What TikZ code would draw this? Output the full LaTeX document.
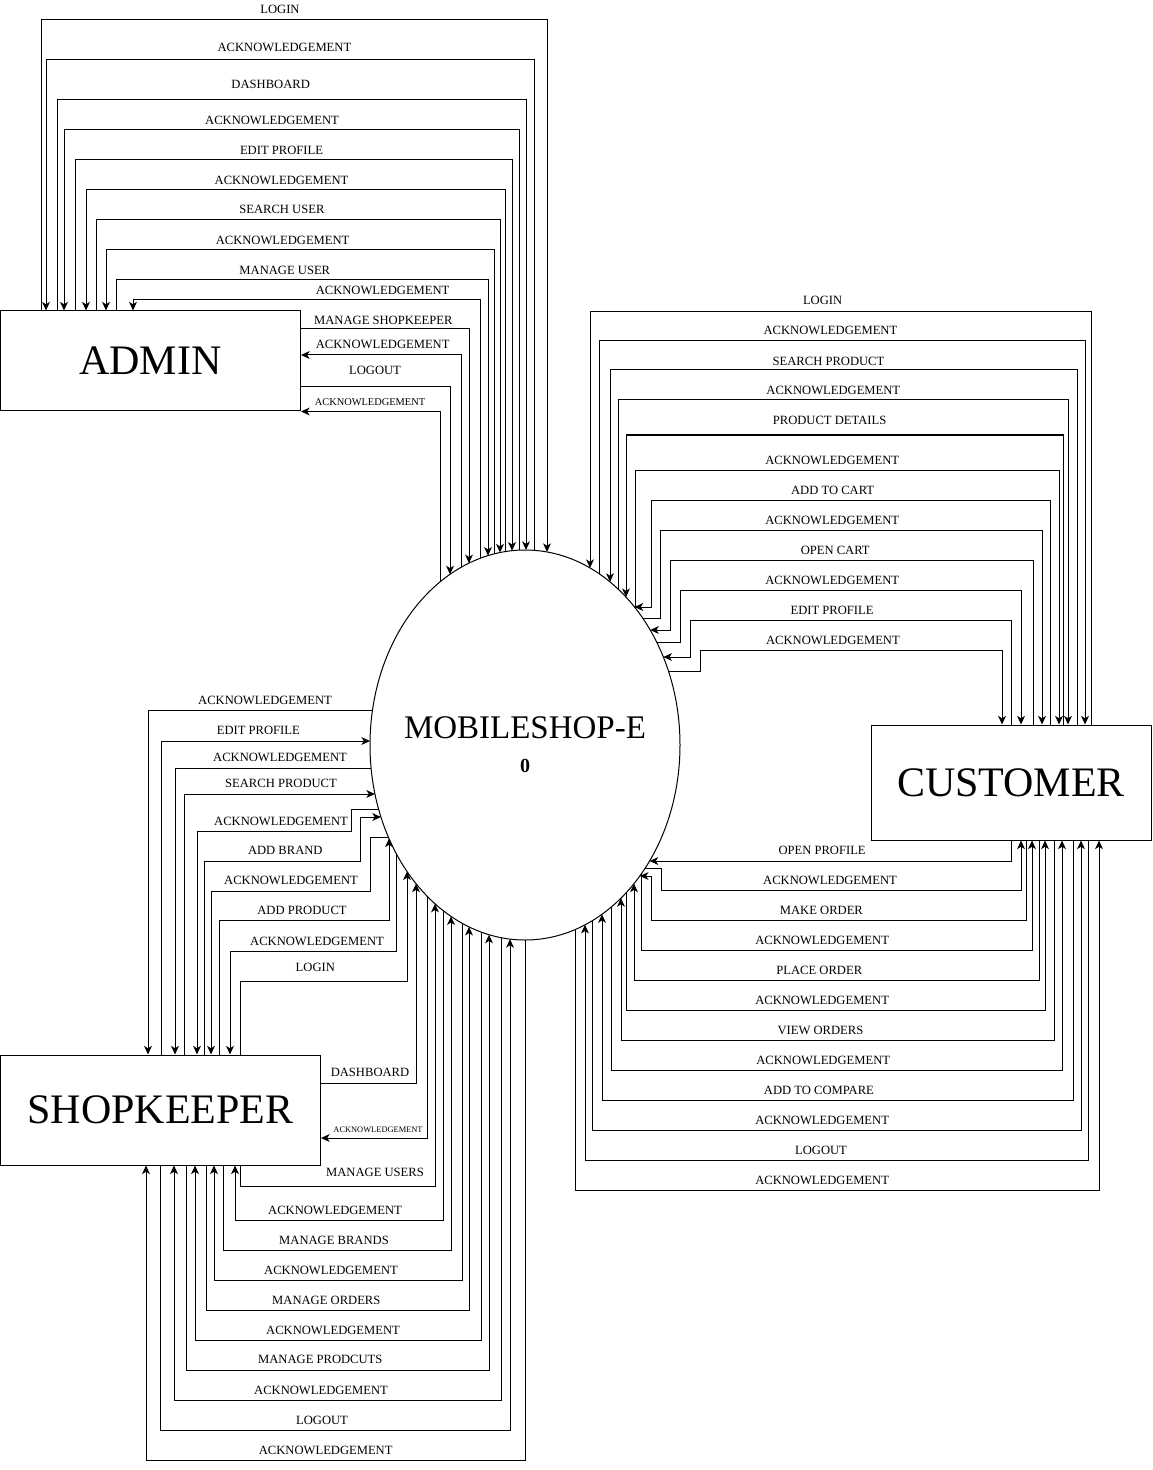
\documentclass[tikz,border=0pt]{standalone}
\usepackage{fontspec}
\setmainfont{Liberation Serif}
\usetikzlibrary{shapes.geometric,arrows.meta,calc}
\begin{document}
\begin{tikzpicture}[x=0.5pt,y=-0.5pt,
  declare function={ety(\t)=195*sqrt(max(0,1-(\t/155)^2)); etx(\t)=155*sqrt(max(0,1-(\t/195)^2));},
  flow/.style={draw=black,line width=0.5pt,-{Stealth[length=4.3pt,width=3.9pt,inset=1.2pt]}},
  ent/.style={draw=black,line width=0.5pt,rectangle,inner sep=0pt,font=\fontsize{21}{24}\selectfont},
  lbl/.style={inner sep=0pt,font=\fontsize{6.3}{7}\selectfont},
  lbls/.style={inner sep=0pt,font=\fontsize{5.2}{6}\selectfont},
  lblt/.style={inner sep=0pt,font=\fontsize{4.2}{5}\selectfont},
]
\useasboundingbox (0,0) rectangle (1152,1470);

% entities and process
\node[ent,minimum width=150pt,minimum height=50pt] (A) at (150.5,361) {ADMIN};
\node[ent,minimum width=140pt,minimum height=57.5pt] (C) at (1011,782.5) {CUSTOMER};
\node[ent,minimum width=160pt,minimum height=55pt] (S) at (160.5,1110) {SHOPKEEPER};
\node[ellipse,draw=black,line width=0.5pt,minimum width=155pt,minimum height=195pt,inner sep=0pt] (E) at (525,745) {};
\node[inner sep=0pt,font=\fontsize{16.5}{19}\selectfont] (Et) at (525,728) {MOBILESHOP-E};
\node[inner sep=0pt,font=\bfseries\fontsize{10}{12}\selectfont] (En) at (525,766) {0};

% ---------------- ADMIN ----------------
\draw[flow] (41,0 |- A.north) |- (547,20) -- ($(E.center)+(22,{-ety(22)})$);
\draw[flow] ($(E.center)+(9,{-ety(9)})$) |- (46,60) -- (46,0 |- A.north);
\draw[flow] (57,0 |- A.north) |- (526,100) -- ($(E.center)+(1,{-ety(1)})$);
\draw[flow] ($(E.center)+(-6,{-ety(-6)})$) |- (64,130) -- (64,0 |- A.north);
\draw[flow] (75,0 |- A.north) |- (512,160) -- ($(E.center)+(-13,{-ety(-13)})$);
\draw[flow] ($(E.center)+(-20,{-ety(-20)})$) |- (86,190) -- (86,0 |- A.north);
\draw[flow] (96,0 |- A.north) |- (500,220) -- ($(E.center)+(-25,{-ety(-25)})$);
\draw[flow] ($(E.center)+(-31,{-ety(-31)})$) |- (106,250) -- (106,0 |- A.north);
\draw[flow] (116,0 |- A.north) |- (488,280) -- ($(E.center)+(-37,{-ety(-37)})$);
\draw[flow] ($(E.center)+(-45,{-ety(-45)})$) |- (133,300) -- (133,0 |- A.north);
\draw[flow] (A.east |- 0,329) -| ($(E.center)+(-56,{-ety(-56)})$);
\draw[flow] ($(E.center)+(-64,{-ety(-64)})$) |- (A.east |- 0,355);
\draw[flow] (A.east |- 0,387) -| ($(E.center)+(-75,{-ety(-75)})$);
\draw[flow] ($(E.center)+(-85,{-ety(-85)})$) |- (A.south east);

\node[lbl] (a1) at (280,9.3) {LOGIN};
\node[lbl] (a2) at (284.4,47.7) {ACKNOWLEDGEMENT};
\node[lbl] (a3) at (270.7,84.3) {DASHBOARD};
\node[lbl] (a4) at (272,120.3) {ACKNOWLEDGEMENT};
\node[lbl] (a5) at (281.5,150.3) {EDIT PROFILE};
\node[lbl] (a6) at (281.5,180.3) {ACKNOWLEDGEMENT};
\node[lbl] (a7) at (281.9,209.3) {SEARCH USER};
\node[lbl] (a8) at (282.6,240.3) {ACKNOWLEDGEMENT};
\node[lbl] (a9) at (284.8,270) {MANAGE USER};
\node[lbl] (a10) at (382.6,290.3) {ACKNOWLEDGEMENT};
\node[lbl] (a11) at (383.3,320.7) {MANAGE SHOPKEEPER};
\node[lbl] (a12) at (382.7,344.3) {ACKNOWLEDGEMENT};
\node[lbl] (a13) at (375,370.7) {LOGOUT};
\node[lbls] (a14) at (370,401.7) {ACKNOWLEDGEMENT};

% ---------------- CUSTOMER top ----------------
\draw[flow] (1091,0 |- C.north) |- (590,312) -- ($(E.center)+(65,{-ety(65)})$);
\draw[flow] ($(E.center)+(74,{-ety(74)})$) |- (1085,341) -- (1085,0 |- C.north);
\draw[flow] (1077,0 |- C.north) |- (610,370) -- ($(E.center)+(85,{-ety(85)})$);
\draw[flow] ($(E.center)+(93,{-ety(93)})$) |- (1068,400) -- (1068,0 |- C.north);
\draw[flow] (1063,0 |- C.north) |- (626,435) -- ($(E.center)+(101,{-ety(101)})$);
\draw[flow] ($(E.center)+(110,{-ety(110)})$) |- (1059,470) -- (1059,0 |- C.north);
\draw[flow] (1050,0 |- C.north) |- (651,500) |- ($(E.center)+({etx(-138)},-138)$);
\draw[flow] ($(E.center)+({etx(-127)},-127)$) -| (660,530) -| (1042,0 |- C.north);
\draw[flow] (1033,0 |- C.north) |- (670,560) |- ($(E.center)+({etx(-115)},-115)$);
\draw[flow] ($(E.center)+({etx(-103)},-103)$) -| (680,590) -| (1021,0 |- C.north);
\draw[flow] (1011,0 |- C.north) |- (690,620) |- ($(E.center)+({etx(-88)},-88)$);
\draw[flow] ($(E.center)+({etx(-74)},-74)$) -| (700,650) -| (1002,0 |- C.north);

\node[lbl] (c1) at (822.6,300.7) {LOGIN};
\node[lbl] (c2) at (830.4,330.3) {ACKNOWLEDGEMENT};
\node[lbl] (c3) at (828.5,361.3) {SEARCH PRODUCT};
\node[lbl] (c4) at (833.3,390.3) {ACKNOWLEDGEMENT};
\node[lbl] (c5) at (829.6,420.3) {PRODUCT DETAILS};
\node[lbl] (c6) at (832.2,460.3) {ACKNOWLEDGEMENT};
\node[lbl] (c7) at (832.6,490.3) {ADD TO CART};
\node[lbl] (c8) at (832.2,520.3) {ACKNOWLEDGEMENT};
\node[lbl] (c9) at (835.2,550.3) {OPEN CART};
\node[lbl] (c10) at (832.2,580.3) {ACKNOWLEDGEMENT};
\node[lbl] (c11) at (832.1,610.7) {EDIT PROFILE};
\node[lbl] (c12) at (832.9,640) {ACKNOWLEDGEMENT};

% ---------------- CUSTOMER bottom ----------------
\draw[flow] (1011,0 |- C.south) |- ($(E.center)+({etx(116)},116)$);
\draw[flow] ($(E.center)+({etx(123)},123)$) -| (661,890) -| (1021,0 |- C.south);
\draw[flow] (1026,0 |- C.south) |- (651,920) |- ($(E.center)+({etx(131)},131)$);
\draw[flow] ($(E.center)+(116,{ety(116)})$) |- (1032,950) -- (1032,0 |- C.south);
\draw[flow] (1039,0 |- C.south) |- (634,980) -- ($(E.center)+(109,{ety(109)})$);
\draw[flow] ($(E.center)+(101,{ety(101)})$) |- (1045,1010) -- (1045,0 |- C.south);
\draw[flow] (1054,0 |- C.south) |- (621,1040) -- ($(E.center)+(96,{ety(96)})$);
\draw[flow] ($(E.center)+(86,{ety(86)})$) |- (1062,1070) -- (1062,0 |- C.south);
\draw[flow] (1073,0 |- C.south) |- (602,1100) -- ($(E.center)+(77,{ety(77)})$);
\draw[flow] ($(E.center)+(67,{ety(67)})$) |- (1081,1130) -- (1081,0 |- C.south);
\draw[flow] (1088,0 |- C.south) |- (585,1160) -- ($(E.center)+(60,{ety(60)})$);
\draw[flow] ($(E.center)+(50,{ety(50)})$) |- (1099,1190) -- (1099,0 |- C.south);

\node[lbl] (d1) at (822.1,850.3) {OPEN PROFILE};
\node[lbl] (d2) at (830,880.3) {ACKNOWLEDGEMENT};
\node[lbl] (d3) at (821.4,910.3) {MAKE ORDER};
\node[lbl] (d4) at (822.1,940.3) {ACKNOWLEDGEMENT};
\node[lbl] (d5) at (819.3,970.3) {PLACE ORDER};
\node[lbl] (d6) at (822.1,1000.3) {ACKNOWLEDGEMENT};
\node[lbl] (d7) at (820.4,1030.3) {VIEW ORDERS};
\node[lbl] (d8) at (823.2,1060.3) {ACKNOWLEDGEMENT};
\node[lbl] (d9) at (818.9,1090.3) {ADD TO COMPARE};
\node[lbl] (d10) at (822.1,1120.3) {ACKNOWLEDGEMENT};
\node[lbl] (d11) at (821,1150.3) {LOGOUT};
\node[lbl] (d12) at (822.1,1180.3) {ACKNOWLEDGEMENT};

% ---------------- SHOPKEEPER top ----------------
\draw[flow] ($(E.center)+({-etx(-35)},-35)$) -| (148,0 |- S.north);
\draw[flow] (161,0 |- S.north) |- ($(E.center)+({-etx(-4)},-4)$);
\draw[flow] ($(E.center)+({-etx(23)},23)$) -| (175,0 |- S.north);
\draw[flow] (184,0 |- S.north) |- ($(E.center)+({-etx(49)},49)$);
\draw[flow] ($(E.center)+({-etx(64)},64)$) -| (351,831) -| (197,0 |- S.north);
\draw[flow] (204,0 |- S.north) |- (360,861) |- ($(E.center)+({-etx(72)},72)$);
\draw[flow] ($(E.center)+({-etx(92)},92)$) -| (370,891) -| (211,0 |- S.north);
\draw[flow] (219,0 |- S.north) |- (389,920) -- ($(E.center)+(-136,{ety(-136)})$);
\draw[flow] ($(E.center)+(-129,{ety(-129)})$) |- (230,951) -- (230,0 |- S.north);
\draw[flow] (240,0 |- S.north) |- (407,981) -- ($(E.center)+(-118,{ety(-118)})$);

\node[lbl] (s1) at (265,700.3) {ACKNOWLEDGEMENT};
\node[lbl] (s2) at (258.3,730.7) {EDIT PROFILE};
\node[lbl] (s3) at (280,757.7) {ACKNOWLEDGEMENT};
\node[lbl] (s4) at (281,783.7) {SEARCH PRODUCT};
\node[lbl] (s5) at (281,821) {ACKNOWLEDGEMENT};
\node[lbl] (s6) at (285.3,850.7) {ADD BRAND};
\node[lbl] (s7) at (291,880.7) {ACKNOWLEDGEMENT};
\node[lbl] (s8) at (302,910) {ADD PRODUCT};
\node[lbl] (s9) at (317,941.7) {ACKNOWLEDGEMENT};
\node[lbl] (s10) at (315.3,967) {LOGIN};

% ---------------- SHOPKEEPER right / bottom ----------------
\draw[flow] (S.east |- 0,1083) -| ($(E.center)+(-109,{ety(-109)})$);
\draw[flow] ($(E.center)+(-98,{ety(-98)})$) |- (S.east |- 0,1138);
\draw[flow] (240,0 |- S.south) |- (435,1186) -- ($(E.center)+(-90,{ety(-90)})$);
\draw[flow] ($(E.center)+(-82,{ety(-82)})$) |- (235,1220) -- (235,0 |- S.south);
\draw[flow] (223,0 |- S.south) |- (451,1250) -- ($(E.center)+(-74,{ety(-74)})$);
\draw[flow] ($(E.center)+(-63,{ety(-63)})$) |- (214,1280) -- (214,0 |- S.south);
\draw[flow] (206,0 |- S.south) |- (469,1310) -- ($(E.center)+(-56,{ety(-56)})$);
\draw[flow] ($(E.center)+(-44,{ety(-44)})$) |- (195,1340) -- (195,0 |- S.south);
\draw[flow] (186,0 |- S.south) |- (489,1370) -- ($(E.center)+(-36,{ety(-36)})$);
\draw[flow] ($(E.center)+(-24,{ety(-24)})$) |- (174,1400) -- (174,0 |- S.south);
\draw[flow] (160,0 |- S.south) |- (510,1430) -- ($(E.center)+(-15,{ety(-15)})$);
\draw[flow] ($(E.center)+(0,{ety(0)})$) |- (146,1460) -- (146,0 |- S.south);

\node[lbl] (t1) at (370,1072) {DASHBOARD};
\node[lblt] (t2) at (378,1130) {ACKNOWLEDGEMENT};
\node[lbl] (t3) at (375,1172.3) {MANAGE USERS};
\node[lbl] (t4) at (335,1210.7) {ACKNOWLEDGEMENT};
\node[lbl] (t5) at (334,1240.3) {MANAGE BRANDS};
\node[lbl] (t6) at (331,1270.3) {ACKNOWLEDGEMENT};
\node[lbl] (t7) at (326.3,1300.3) {MANAGE ORDERS};
\node[lbl] (t8) at (333,1330.7) {ACKNOWLEDGEMENT};
\node[lbl] (t9) at (320.3,1359) {MANAGE PRODCUTS};
\node[lbl] (t10) at (321,1390.3) {ACKNOWLEDGEMENT};
\node[lbl] (t11) at (322,1420.3) {LOGOUT};
\node[lbl] (t12) at (325.7,1450.3) {ACKNOWLEDGEMENT};
\end{tikzpicture}
\end{document}
